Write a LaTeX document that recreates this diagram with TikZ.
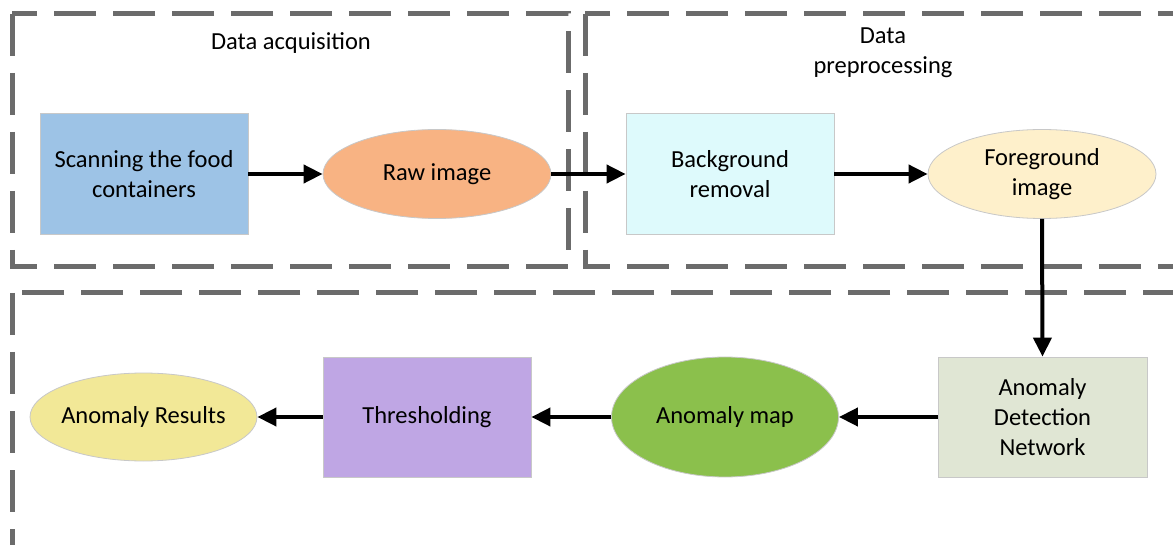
\documentclass[tikz,border=0pt]{standalone}
\usepackage{fontspec}
\setmainfont{Carlito}
\usetikzlibrary{arrows.meta,shapes.geometric}
\definecolor{dashgray}{HTML}{6B6B6B}
\definecolor{bordergray}{HTML}{C8C8C8}
\definecolor{scanblue}{HTML}{9DC3E6}
\definecolor{raworange}{HTML}{F8B383}
\definecolor{bgcyan}{HTML}{DEFAFC}
\definecolor{fgcream}{HTML}{FEF0CB}
\definecolor{adngreen}{HTML}{E0E6D4}
\definecolor{mapgreen}{HTML}{8BC04C}
\definecolor{thrpurple}{HTML}{BFA6E4}
\definecolor{resyellow}{HTML}{F2E897}
\begin{document}
\begin{tikzpicture}[x=1pt,y=-1pt,
  grp/.style={draw=dashgray,line width=5pt,dash pattern=on 42pt off 17pt},
  txt/.style={font=\fontsize{24.5}{30}\selectfont,align=center,text=black},
  rectnode/.style={txt,draw=bordergray,line width=0.8pt,rectangle,inner sep=0pt,
    minimum width=208pt,minimum height=121pt},
  ellnode/.style={txt,draw=bordergray,line width=0.8pt,ellipse,inner xsep=-25pt,inner ysep=0pt,
    minimum width=228pt,minimum height=89pt},
  flow/.style={line width=4pt,-{Triangle[length=19pt,width=18pt]}},
  lbl/.style={txt}]
\clip (0,0) rectangle (1173,545);
\fill[white] (0,0) rectangle (1173,545);
% group frames
\draw[grp] (12,14) rectangle (568,267);
\draw[grp] (585,14) rectangle (1200,267);
\draw[grp] (12,293) rectangle (1200,547);
\node[lbl] (lacq) at (291,43) {Data acquisition};
\node[lbl] (lpre) at (883,53) {Data\\preprocessing};
% nodes
\node[rectnode,fill=scanblue] (scan) at (144,174) {Scanning the food\\containers};
\node[ellnode,fill=raworange] (raw) at (437,174) {Raw image};
\node[rectnode,fill=bgcyan] (bg) at (730,174) {Background\\removal};
\node[ellnode,fill=fgcream] (fg) at (1042,174) {Foreground\\image};
\node[rectnode,fill=adngreen,minimum width=209pt,minimum height=120pt] (adn) at (1042.5,417) {Anomaly\\Detection\\Network};
\node[ellnode,fill=mapgreen,minimum width=227pt,minimum height=120pt] (map) at (725,417) {Anomaly map};
\node[rectnode,fill=thrpurple,minimum height=120pt] (thr) at (427,417) {Thresholding};
\node[ellnode,fill=resyellow,minimum width=227pt,minimum height=88pt] (res) at (143.5,417) {Anomaly Results};
% connectors
\draw[flow] (scan.east) -- (raw.west);
\draw[flow] (raw.east) -- (bg.west);
\draw[flow] (bg.east) -- (fg.west);
\draw[flow] (fg.south) -- (adn.north);
\draw[flow] (adn.west) -- (map.east);
\draw[flow] (map.west) -- (thr.east);
\draw[flow] (thr.west) -- (res.east);
\end{tikzpicture}
\end{document}
